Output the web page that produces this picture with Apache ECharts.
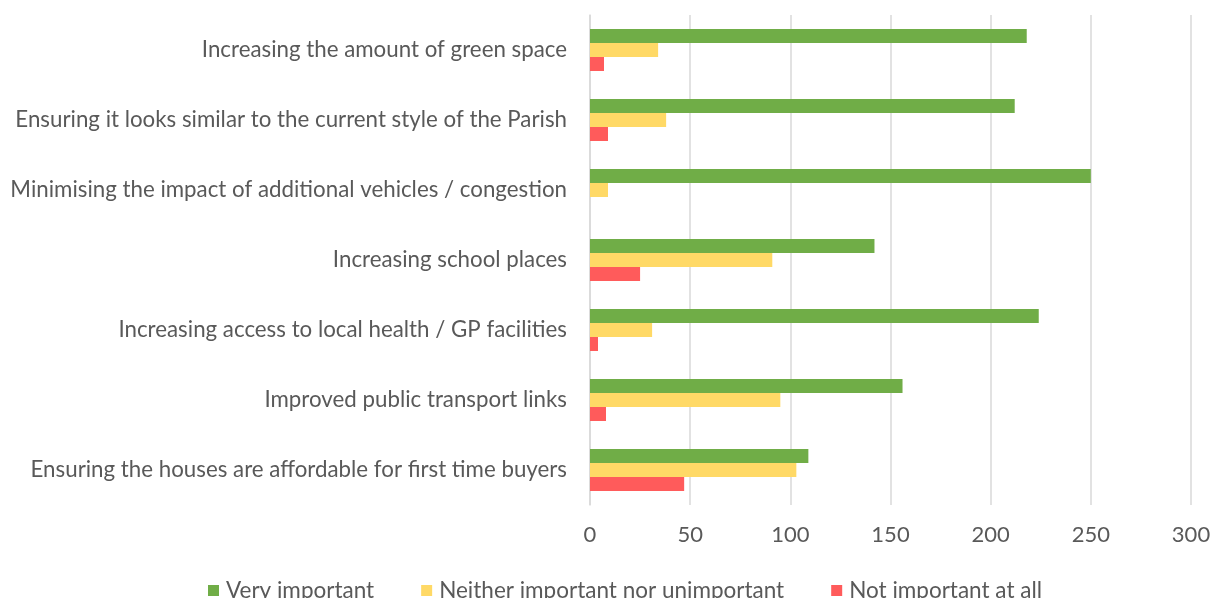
<!DOCTYPE html>
<html>
<head>
<meta charset="utf-8">
<script src="https://cdn.jsdelivr.net/npm/echarts@6/dist/echarts.min.js"></script>
<style>
html,body{margin:0;padding:0;background:#fff;}
#chart{width:1219px;height:598px;}
</style>
</head>
<body>
<div id="chart"></div>
<script>
const categories = [
  "Increasing the amount of green space",
  "Ensuring it looks similar to the current style of the Parish",
  "Minimising the impact of additional vehicles / congestion",
  "Increasing school places",
  "Increasing access to local health / GP facilities",
  "Improved public transport links",
  "Ensuring the houses are affordable for first time buyers"
];
const seriesNames = ["Very important", "Neither important nor unimportant", "Not important at all"];
const veryImportant = [218, 212, 250, 142, 224, 156, 109];
const neitherImportant = [34, 38, 9, 91, 31, 95, 103];
const notImportant = [7, 9, 0, 25, 4, 8, 47];
const xTicks = { min: 0, max: 300, interval: 50 };

const colors = ["#70AD47", "#FFD966", "#FF5B5B"];
const font = "Lato";
const chart = echarts.init(document.getElementById('chart'), null, { renderer: 'canvas' });
chart.setOption({
  animation: false,
  color: colors,
  grid: { left: 590, right: 28, top: 15, bottom: 93, containLabel: false },
  legend: {
    data: seriesNames,
    left: 203,
    top: 574,
    itemWidth: 11,
    itemHeight: 11,
    itemGap: 47,
    icon: 'rect',
    textStyle: { color: '#595959', fontSize: 22.5, fontFamily: font, fontWeight: 400, padding: [0, 0, 0, 2] }
  },
  xAxis: {
    type: 'value',
    min: xTicks.min, max: xTicks.max, interval: xTicks.interval,
    axisLine: { show: false },
    axisTick: { show: false },
    splitLine: { show: true, lineStyle: { color: '#D9D9D9', width: 1.5 } },
    axisLabel: { color: '#595959', fontSize: 22, fontFamily: font, fontWeight: 400, margin: 19 }
  },
  yAxis: {
    type: 'category',
    data: categories,
    inverse: true,
    axisLine: { show: true, lineStyle: { color: '#D9D9D9', width: 1.5 } },
    axisTick: { show: false },
    axisLabel: { color: '#595959', fontSize: 22.3, fontFamily: font, fontWeight: 400, margin: 23 }
  },
  series: [
    { name: seriesNames[0], type: 'bar', data: veryImportant, barGap: '0%', barCategoryGap: '40%' },
    { name: seriesNames[1], type: 'bar', data: neitherImportant, barGap: '0%', barCategoryGap: '40%' },
    { name: seriesNames[2], type: 'bar', data: notImportant, barGap: '0%', barCategoryGap: '40%' }
  ]
});
</script>
</body>
</html>
